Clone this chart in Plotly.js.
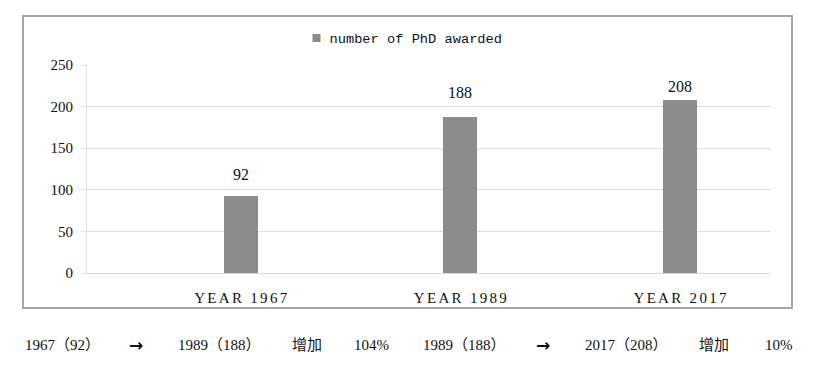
<!DOCTYPE html>
<html><head><meta charset="utf-8">
<script src="https://cdn.plot.ly/plotly-3.0.1.min.js"></script>
<style>body{margin:0;background:#fff}#chart{width:816px;height:370px}</style>
</head><body><div id="chart"></div>
<script>
const categories = ["YEAR 1967", "YEAR 1989", "YEAR 2017"];
const phdValues = [92, 188, 208];
const seriesName = "number of PhD awarded";
const noteTexts = ["1967（92）", "→", "1989（188）", "增加", "104%", "1989（188）", "→", "2017（208）", "增加", "10%"];

const notePixelX = [23, 127, 176, 290, 352, 421, 534, 583, 697, 763];
const labelGap = [14, 17, 6];
const L = 87, R = 771, T = 65, B = 273;
const pw = R - L, ph = B - T;
const serif = "Liberation Serif, Times New Roman, serif";
const cjk = "Liberation Serif, Noto Sans CJK SC, serif";

const trace = {
  type: "bar", x: [0, 1, 2], y: phdValues, name: seriesName,
  marker: {color: "#8c8c8c", line: {width: 0}}, width: 0.155,
  showlegend: true, hoverinfo: "none"
};

const labelAnns = phdValues.map((v, i) => ({
  xref: "x", yref: "y", x: i, y: v, yanchor: "bottom", xanchor: "center",
  yshift: labelGap[i] - 3, showarrow: false, text: String(v),
  font: {family: serif, size: 16, color: "#111"}
}));

const noteAnns = noteTexts.map((t, i) => ({
  xref: "paper", yref: "paper", x: (notePixelX[i] - L) / pw, y: (B - 345) / ph,
  xanchor: "left", yanchor: "middle", showarrow: false, text: t,
  font: t === "→"
    ? {family: "DejaVu Sans, sans-serif", size: 17, color: "#111", weight: "bold"}
    : {family: cjk, size: 15, color: "#111"}
}));

const layout = {
  width: 816, height: 370,
  margin: {l: L, r: 816 - R, t: T, b: 370 - B, pad: 0},
  paper_bgcolor: "#fff", plot_bgcolor: "#fff",
  showlegend: true,
  legend: {orientation: "h", x: (429 - 30.5 - L) / pw, xanchor: "center", y: (B - 38) / ph, yanchor: "middle",
    font: {family: "Liberation Mono, monospace", size: 13.7, color: "#111"}},
  xaxis: {range: [-0.70, 2.414], tickvals: [0, 1, 2], ticktext: categories,
    showgrid: false, zeroline: false, showline: true, linecolor: "#d9d9d9", linewidth: 1,
    ticks: "", ticklabelstandoff: 11, fixedrange: true,
    tickfont: {family: serif, size: 15, color: "#111"}},
  yaxis: {range: [0, 250], tickvals: [0, 50, 100, 150, 200, 250],
    showgrid: true, gridcolor: "#e0e0e0", gridwidth: 1, zeroline: false,
    showline: true, linecolor: "#e0e0e0", ticks: "outside", ticklen: 5, tickcolor: "#e0e0e0",
    ticklabelstandoff: 5,
    tickfont: {family: serif, size: 15, color: "#111"}},
  shapes: [{type: "rect", xref: "paper", yref: "paper",
    x0: (23 - L) / pw, x1: (792 - L) / pw, y0: (B - 308) / ph, y1: (B - 16) / ph,
    line: {color: "#a6a6a6", width: 2}, fillcolor: "rgba(0,0,0,0)", layer: "below"}],
  annotations: labelAnns.concat(noteAnns),
  bargap: 0
};

Plotly.newPlot("chart", [trace], layout, {staticPlot: true, displayModeBar: false}).then(() => {
  document.querySelectorAll(".xtick text").forEach(t => {
    t.style.letterSpacing = "2.3px";
    t.setAttribute("dx", "1.1");
  });
  document.querySelectorAll(".legend .legendpoints path").forEach(p => {
    p.setAttribute("d", "M11,4H3V-4H11Z");
  });
});
</script></body></html>
